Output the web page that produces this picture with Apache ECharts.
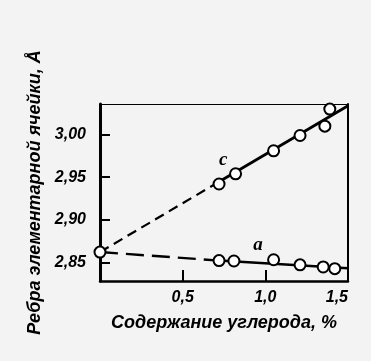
<!DOCTYPE html>
<html><head><meta charset="utf-8">
<script src="https://cdn.jsdelivr.net/npm/echarts@6/dist/echarts.min.js"></script>
<style>html,body{margin:0;padding:0;background:#f3f3f3}#c{width:371px;height:361px}</style>
</head><body><div id="c"></div>
<script>
// Carbon content, % and lattice parameters, Å
const pureIronX = [0];
const pureIronY = [2.862];
const cCarbon = [0.72, 0.82, 1.05, 1.21, 1.36, 1.39];
const cValues = [2.942, 2.954, 2.981, 2.999, 3.010, 3.030];
const aCarbon = [0.72, 0.81, 1.05, 1.21, 1.35, 1.42];
const aValues = [2.852, 2.8515, 2.853, 2.847, 2.8445, 2.8425];
// fitted lines: dashed extrapolation then solid
const cDashX = [0, 0.72], cDashY = [2.862, 2.9446];
const cSolidX = [0.72, 1.5], cSolidY = [2.9446, 3.034];
const aDashX = [0, 0.72], aDashY = [2.862, 2.852];
const aSolidX = [0.72, 1.5], aSolidY = [2.852, 2.843];
// series labels
const labelNames = ['c', 'a'];
const labelX = [0.745, 0.955];
const labelY = [2.970, 2.870];
// ticks
const xTickValues = [0.5, 1.0];
const xLabelValues = [0.5, 1.0, 1.5];
const yTickValues = [2.85, 2.90, 2.95, 3.00];
const xTitle = 'Содержание углерода, %';
const yTitle = 'Ребра элементарной ячейки, Å';

const zip = (xs, ys) => xs.map((x, i) => [x, ys[i]]);
const BG = '#f3f3f3';
const font = {fontFamily: 'Liberation Sans', fontStyle: 'italic', fontWeight: 'bold', color: '#000'};

const chart = echarts.init(document.getElementById('c'), null, {renderer: 'canvas'});
const circle = {type: 'scatter', symbol: 'circle', symbolSize: 11, z: 5,
  itemStyle: {color: '#ffffff', borderColor: '#000', borderWidth: 2, opacity: 1}};
const line = (xs, ys, type, w) => ({type: 'line', data: zip(xs, ys), symbol: 'none', silent: true,
  lineStyle: {color: '#000', width: w, type: type}, z: 3});

chart.setOption({
  backgroundColor: BG,
  animation: false,
  grid: {left: 100, top: 104, right: 23, bottom: 80, containLabel: false},
  xAxis: [{
    type: 'value', min: 0, max: 1.5,
    name: xTitle, nameLocation: 'middle', nameGap: 33,
    nameTextStyle: Object.assign({fontSize: 18}, font),
    axisLine: {show: true, onZero: false, lineStyle: {color: '#000', width: 2.5}},
    axisTick: {show: true, inside: true, length: 11, customValues: xTickValues, lineStyle: {color: '#000', width: 2}},
    axisLabel: Object.assign({show: true, margin: 9, fontSize: 16,
      customValues: xLabelValues, alignMaxLabel: 'right',
      formatter: v => v.toFixed(1).replace('.', ',')}, font),
    splitLine: {show: false}
  }, {
    type: 'value', min: 0, max: 1.5, position: 'top',
    axisLine: {show: true, onZero: false, lineStyle: {color: '#000', width: 1.2}},
    axisTick: {show: false}, axisLabel: {show: false}, splitLine: {show: false}
  }],
  yAxis: [{
    type: 'value', min: 2.828, max: 3.036,
    name: yTitle, nameLocation: 'middle', nameGap: 48,
    nameTextStyle: Object.assign({fontSize: 18}, font),
    axisLine: {show: true, onZero: false, lineStyle: {color: '#000', width: 3}},
    axisTick: {show: true, inside: true, length: 10, customValues: yTickValues, lineStyle: {color: '#000', width: 2}},
    axisLabel: Object.assign({show: true, margin: 14, fontSize: 16, customValues: yTickValues,
      formatter: v => v.toFixed(2).replace('.', ',')}, font),
    splitLine: {show: false}
  }, {
    type: 'value', min: 2.828, max: 3.036, position: 'right',
    axisLine: {show: true, onZero: false, lineStyle: {color: '#000', width: 2}},
    axisTick: {show: false}, axisLabel: {show: false}, splitLine: {show: false}
  }],
  series: [
    line(cDashX, cDashY, [10, 6], 2.2),
    line(cSolidX, cSolidY, 'solid', 2.8),
    line(aDashX, aDashY, [18, 8], 2.4),
    line(aSolidX, aSolidY, 'solid', 2.6),
    Object.assign({data: zip(pureIronX, pureIronY)}, circle),
    Object.assign({data: zip(cCarbon, cValues)}, circle),
    Object.assign({data: zip(aCarbon, aValues)}, circle),
    {type: 'scatter', symbolSize: 0, silent: true, itemStyle: {opacity: 1},
     data: labelNames.map((n, i) => ({value: [labelX[i], labelY[i]], name: n})),
     label: {show: true, position: 'inside', formatter: p => p.name, fontSize: 19, opacity: 1,
       fontFamily: 'Liberation Serif', fontStyle: 'italic', fontWeight: 'bold', color: '#000'}}
  ]
});
</script></body></html>
